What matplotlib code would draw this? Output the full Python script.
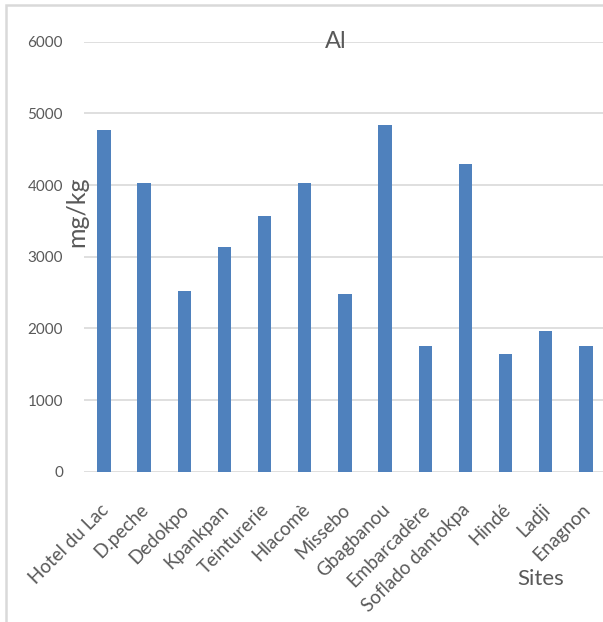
import matplotlib.pyplot as plt
from matplotlib.patches import Rectangle
from matplotlib.transforms import ScaledTranslation

sites = ["Hotel du Lac", "D.peche", "Dedokpo", "Kpankpan", "Teinturerie", "Hlacomè",
         "Missebo", "Gbagbanou", "Embarcadère", "Soflado dantokpa", "Hindé", "Ladji", "Enagnon"]
al_values = [4775, 4035, 2515, 3140, 3575, 4025, 2475, 4840, 1760, 4295, 1640, 1960, 1760]
y_ticks = [0, 1000, 2000, 3000, 4000, 5000, 6000]

plt.rcParams['font.family'] = ['Lato', 'DejaVu Sans']
text_color = "#595959"
grid_color = "#D9D9D9"

fig = plt.figure(figsize=(6.03, 6.22), dpi=100)
ax = fig.add_axes([0.139, 0.2416, 0.866, 0.6913])

x = range(len(sites))
ax.bar(x, al_values, width=0.33, color="#4F81BD", zorder=3)

ax.set_xlim(-0.5, len(sites) - 0.5)
ax.set_ylim(0, 6000)
ax.set_yticks(y_ticks)
ax.yaxis.grid(True, color=grid_color, linewidth=1.2, zorder=0)
for s in ax.spines.values():
    s.set_visible(False)
ax.tick_params(axis="both", length=0, colors=text_color)
ax.tick_params(axis="y", pad=15, labelsize=11)
ax.set_xticks(list(x))
ax.set_xticklabels(sites, rotation=45, ha="right", rotation_mode="anchor", fontsize=13.5)
ax.tick_params(axis="x", pad=21)
# nudge the slanted labels a little to the left
shift = ScaledTranslation(-0.04, 0, fig.dpi_scale_trans)
for lbl in ax.get_xticklabels():
    lbl.set_transform(lbl.get_transform() + shift)

ax.text(0.483, 1.0, "Al", transform=ax.transAxes, ha="center", va="center",
        color=text_color, fontsize=17)
ax.set_ylabel("mg/kg", color=text_color, fontsize=18)
ax.yaxis.set_label_coords(0.008, 0.604)
ax.set_xlabel("Sites", color=text_color, fontsize=16)
ax.xaxis.set_label_coords(0.874, -0.227)

# light frame around the chart area
fig.patches.append(Rectangle((6 / 603, -0.05), 1.1, 1.05 - 5 / 622, transform=fig.transFigure,
                             fill=False, edgecolor=grid_color, linewidth=1.8))

fig.savefig("out.png", dpi=100)
